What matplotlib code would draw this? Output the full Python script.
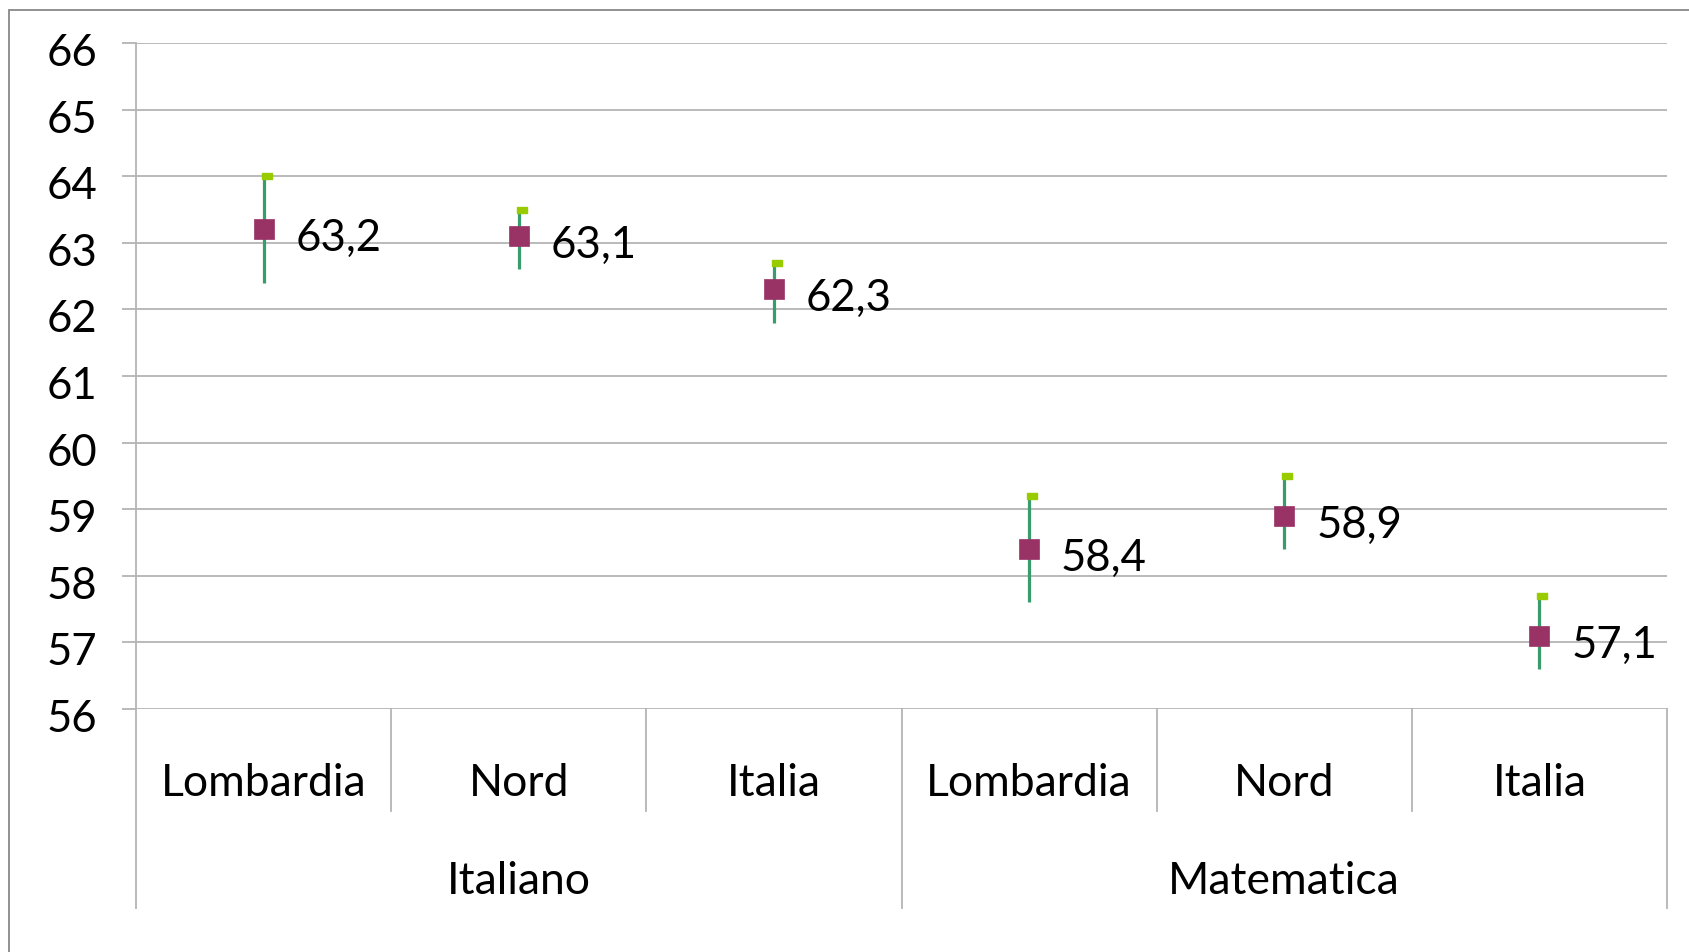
import matplotlib
matplotlib.use("Agg")
import matplotlib.pyplot as plt
from matplotlib.path import Path
from matplotlib.patches import Rectangle
from matplotlib.transforms import ScaledTranslation
import numpy as np

plt.rcParams['font.family'] = ['Lato', 'DejaVu Sans']

# data
categories = ["Lombardia", "Nord", "Italia", "Lombardia", "Nord", "Italia"]
groups = ["Italiano", "Matematica"]
means = [63.2, 63.1, 62.3, 58.4, 58.9, 57.1]
highs = [64.0, 63.5, 62.7, 59.2, 59.5, 57.7]
lows = [62.4, 62.6, 61.8, 57.6, 58.4, 56.6]
labels = ["63,2", "63,1", "62,3", "58,4", "58,9", "57,1"]
yticks = list(range(56, 67))

W, H = 1689, 953
fig = plt.figure(figsize=(W / 100, H / 100), dpi=100)

# outer chart frame (cropped on right/bottom)
fig.patches.append(Rectangle((9 / W, -0.05), 1.2, 1 - 11 / H + 0.05,
                             transform=fig.transFigure, fill=False,
                             edgecolor="#888888", lw=1.3))

left, right, top, bottom = 136, 1667, 44, 710
ax = fig.add_axes([left / W, 1 - bottom / H, (right - left) / W, (bottom - top) / H])

grid_c = "#b4b4b4"
x = np.arange(len(categories))
ax.set_xlim(-0.5, len(categories) - 0.5)
ax.set_ylim(56, 66)
ax.set_yticks(yticks)
ax.set_yticklabels([str(t) for t in yticks], fontsize=31.5)
ax.set_xticks([])
ax.tick_params(axis="y", length=10, width=1.3, color=grid_c, pad=18)
shift = ScaledTranslation(0, -4 / 72, fig.dpi_scale_trans)
for lab in ax.get_yticklabels():
    lab.set_transform(lab.get_transform() + shift)
for s in ["top", "right", "bottom", "left"]:
    ax.spines[s].set_visible(False)
ax.grid(axis="y", color=grid_c, lw=1.3)
ax.set_axisbelow(True)

# axis / separator lines
xt = ax.get_xaxis_transform()
ax.plot([-0.5, -0.5], [1, -0.2988], transform=xt, color=grid_c, lw=1.3, clip_on=False)
for b in [0.5, 1.5, 3.5, 4.5]:
    ax.plot([b, b], [0, -0.153], transform=xt, color=grid_c, lw=1.3, clip_on=False)
for b in [2.5, 5.5]:
    ax.plot([b, b], [0, -0.2988], transform=xt, color=grid_c, lw=1.3, clip_on=False)

# high-low lines
ax.vlines(x, lows, highs, color="#3a9c6c", lw=2.3, zorder=3)
cap = Path([(-0.2, -0.35), (1, -0.35), (1, 0.35), (-0.2, 0.35), (-0.2, -0.35)],
           [Path.MOVETO, Path.LINETO, Path.LINETO, Path.LINETO, Path.CLOSEPOLY])
ax.plot(x, highs, ls="none", marker=cap, ms=12, color="#99cc00",
        mec="#99cc00", zorder=4, clip_on=False)
ax.plot(x, means, ls="none", marker="s", ms=15, color="#993366",
        mec="#993366", mew=0.5, zorder=5)

for xi, m, lab in zip(x, means, labels):
    ax.annotate(lab, (xi, m), xytext=(23, -6), textcoords="offset points",
                ha="left", va="center", fontsize=31.5)

for xi, c in zip(x, categories):
    ax.text(xi, -0.111, c, transform=xt, ha="center", va="center", fontsize=32)
for gi, g in enumerate(groups):
    ax.text(gi * 3 + 1, -0.257, g, transform=xt, ha="center", va="center", fontsize=32)

fig.savefig("out.png", dpi=100)
